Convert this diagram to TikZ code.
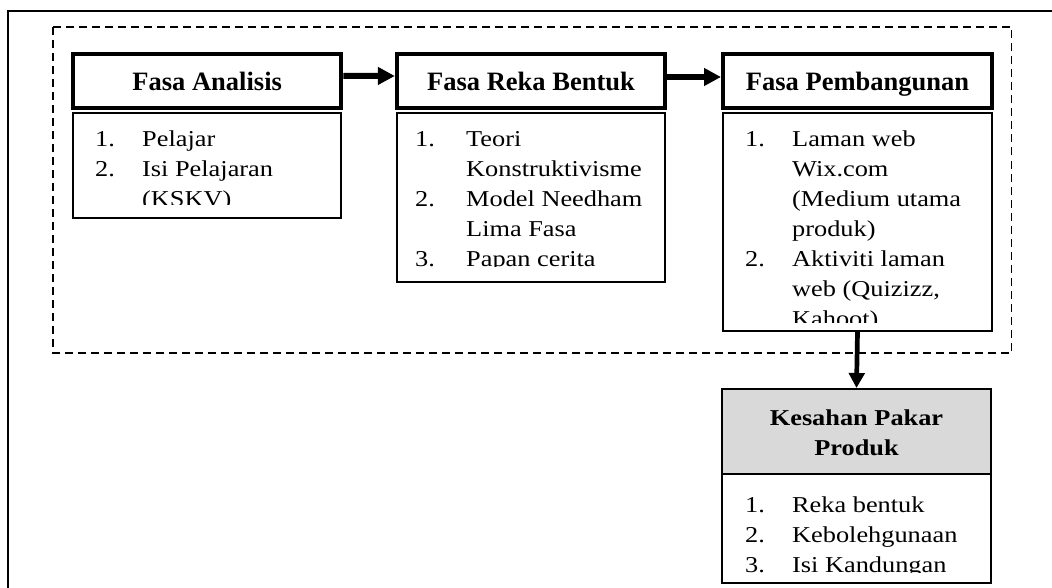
\documentclass[tikz,border=0pt]{standalone}
\usepackage{fontspec}
\setmainfont{Liberation Serif}
\newfontfamily\stretchserif{Liberation Serif}[FakeStretch=1.16]
\usetikzlibrary{arrows.meta}
\newcommand\li[2][47pt]{\makebox[#1][l]{#2}}
\newcommand\lc[1][47pt]{\hspace*{#1}}
\tikzset{
  phasehead/.style={draw, line width=4pt, minimum width=268.3pt, minimum height=54.3pt,
    inner sep=0pt, text height=19.7pt, text depth=0pt,
    font=\fontsize{26.5}{30}\selectfont\bfseries},
  phasebody/.style={draw, line width=2pt, inner sep=0pt, minimum width=268.5pt},
  listtext/.style={anchor=base west, inner sep=0pt,
    font=\stretchserif\fontsize{22.7}{30}\selectfont},
  flow/.style={line width=6pt, -{Triangle[length=17pt,width=17pt]}},
  flowdown/.style={line width=4.7pt, -{Triangle[length=15pt,width=15.5pt]}},
  checkhead/.style={draw, line width=2pt, fill=gray!30, minimum width=269pt, minimum height=85pt,
    inner sep=0pt, text height=10pt, text depth=23pt,
    font=\stretchserif\fontsize{22.7}{30}\selectfont\bfseries},
  checkbody/.style={draw, line width=2pt, minimum width=269pt, minimum height=109pt, inner sep=0pt},
  groupbox/.style={draw, dashed, dash pattern=on 8pt off 5pt, line width=1.5pt},
  frame/.style={draw, line width=2pt}
}
\begin{document}
\begin{tikzpicture}[x=1pt, y=-1pt]
\useasboundingbox (0,0) rectangle (1052,588);
% outer frame (cropped)
\draw[frame] (8,588) |- (1052,11);
% dashed group
\draw[groupbox] (53,27) rectangle (1011.5,353);

% phase headers
\node[phasehead] (h1) at (207.2,80.85) {Fasa Analisis};
\node[phasehead] (h2) at (531,81) {Fasa Reka Bentuk};
\node[phasehead, minimum width=269pt] (h3) at (857.5,81) {Fasa Pembangunan};

% phase bodies
\node[phasebody, minimum height=105pt] (b1) at (207.2,165.5) {};
\node[phasebody, minimum width=268pt, minimum height=169pt] (b2) at (531,197.5) {};
\node[phasebody, minimum width=269pt, minimum height=218pt] (b3) at (857.5,222) {};

% expert validation
\node[checkhead] (kh) at (856.5,431.5) {\parbox[t]{260pt}{\centering Kesahan Pakar\\Produk}};
\node[checkbody] (kb) at (856.5,528.5) {};

% list texts (clipped like overflowing text boxes)
\begin{scope}
  \clip (73,113) rectangle (341,205);
  \node[listtext] (t1) at (95,146.5) {\parbox[t]{240pt}{\li{1.}Pelajar\\\li{2.}Isi Pelajaran\\\lc(KSKV)}};
\end{scope}
\begin{scope}
  \clip (397,113) rectangle (665,266.5);
  \node[listtext] (t2) at (415,147) {\parbox[t]{240pt}{\li[51pt]{1.}Teori\\\lc[51pt]Konstruktivisme\\\li[51pt]{2.}Model Needham\\\lc[51pt]Lima Fasa\\\li[51pt]{3.}Papan cerita}};
\end{scope}
\begin{scope}
  \clip (723,113) rectangle (992,322);
  \node[listtext] (t3) at (745,147) {\parbox[t]{240pt}{\li{1.}Laman web\\\lc Wix.com\\\lc(Medium utama\\\lc produk)\\\li{2.}Aktiviti laman\\\lc web (Quizizz,\\\lc Kahoot)}};
\end{scope}
\begin{scope}
  \clip (722,474) rectangle (991,572);
  \node[listtext] (t4) at (745,512) {\parbox[t]{240pt}{\li{1.}Reka bentuk\\\li{2.}Kebolehgunaan\\\li{3.}Isi Kandungan}};
\end{scope}

% connectors
\draw[flow] ([yshift=5pt]h1.east) -- ([yshift=5pt]h2.west);
\draw[flow] ([yshift=4pt]h2.east) -- ([yshift=4pt]h3.west);
\draw[flowdown] (b3.south) -- (kh.north);
\end{tikzpicture}
\end{document}
